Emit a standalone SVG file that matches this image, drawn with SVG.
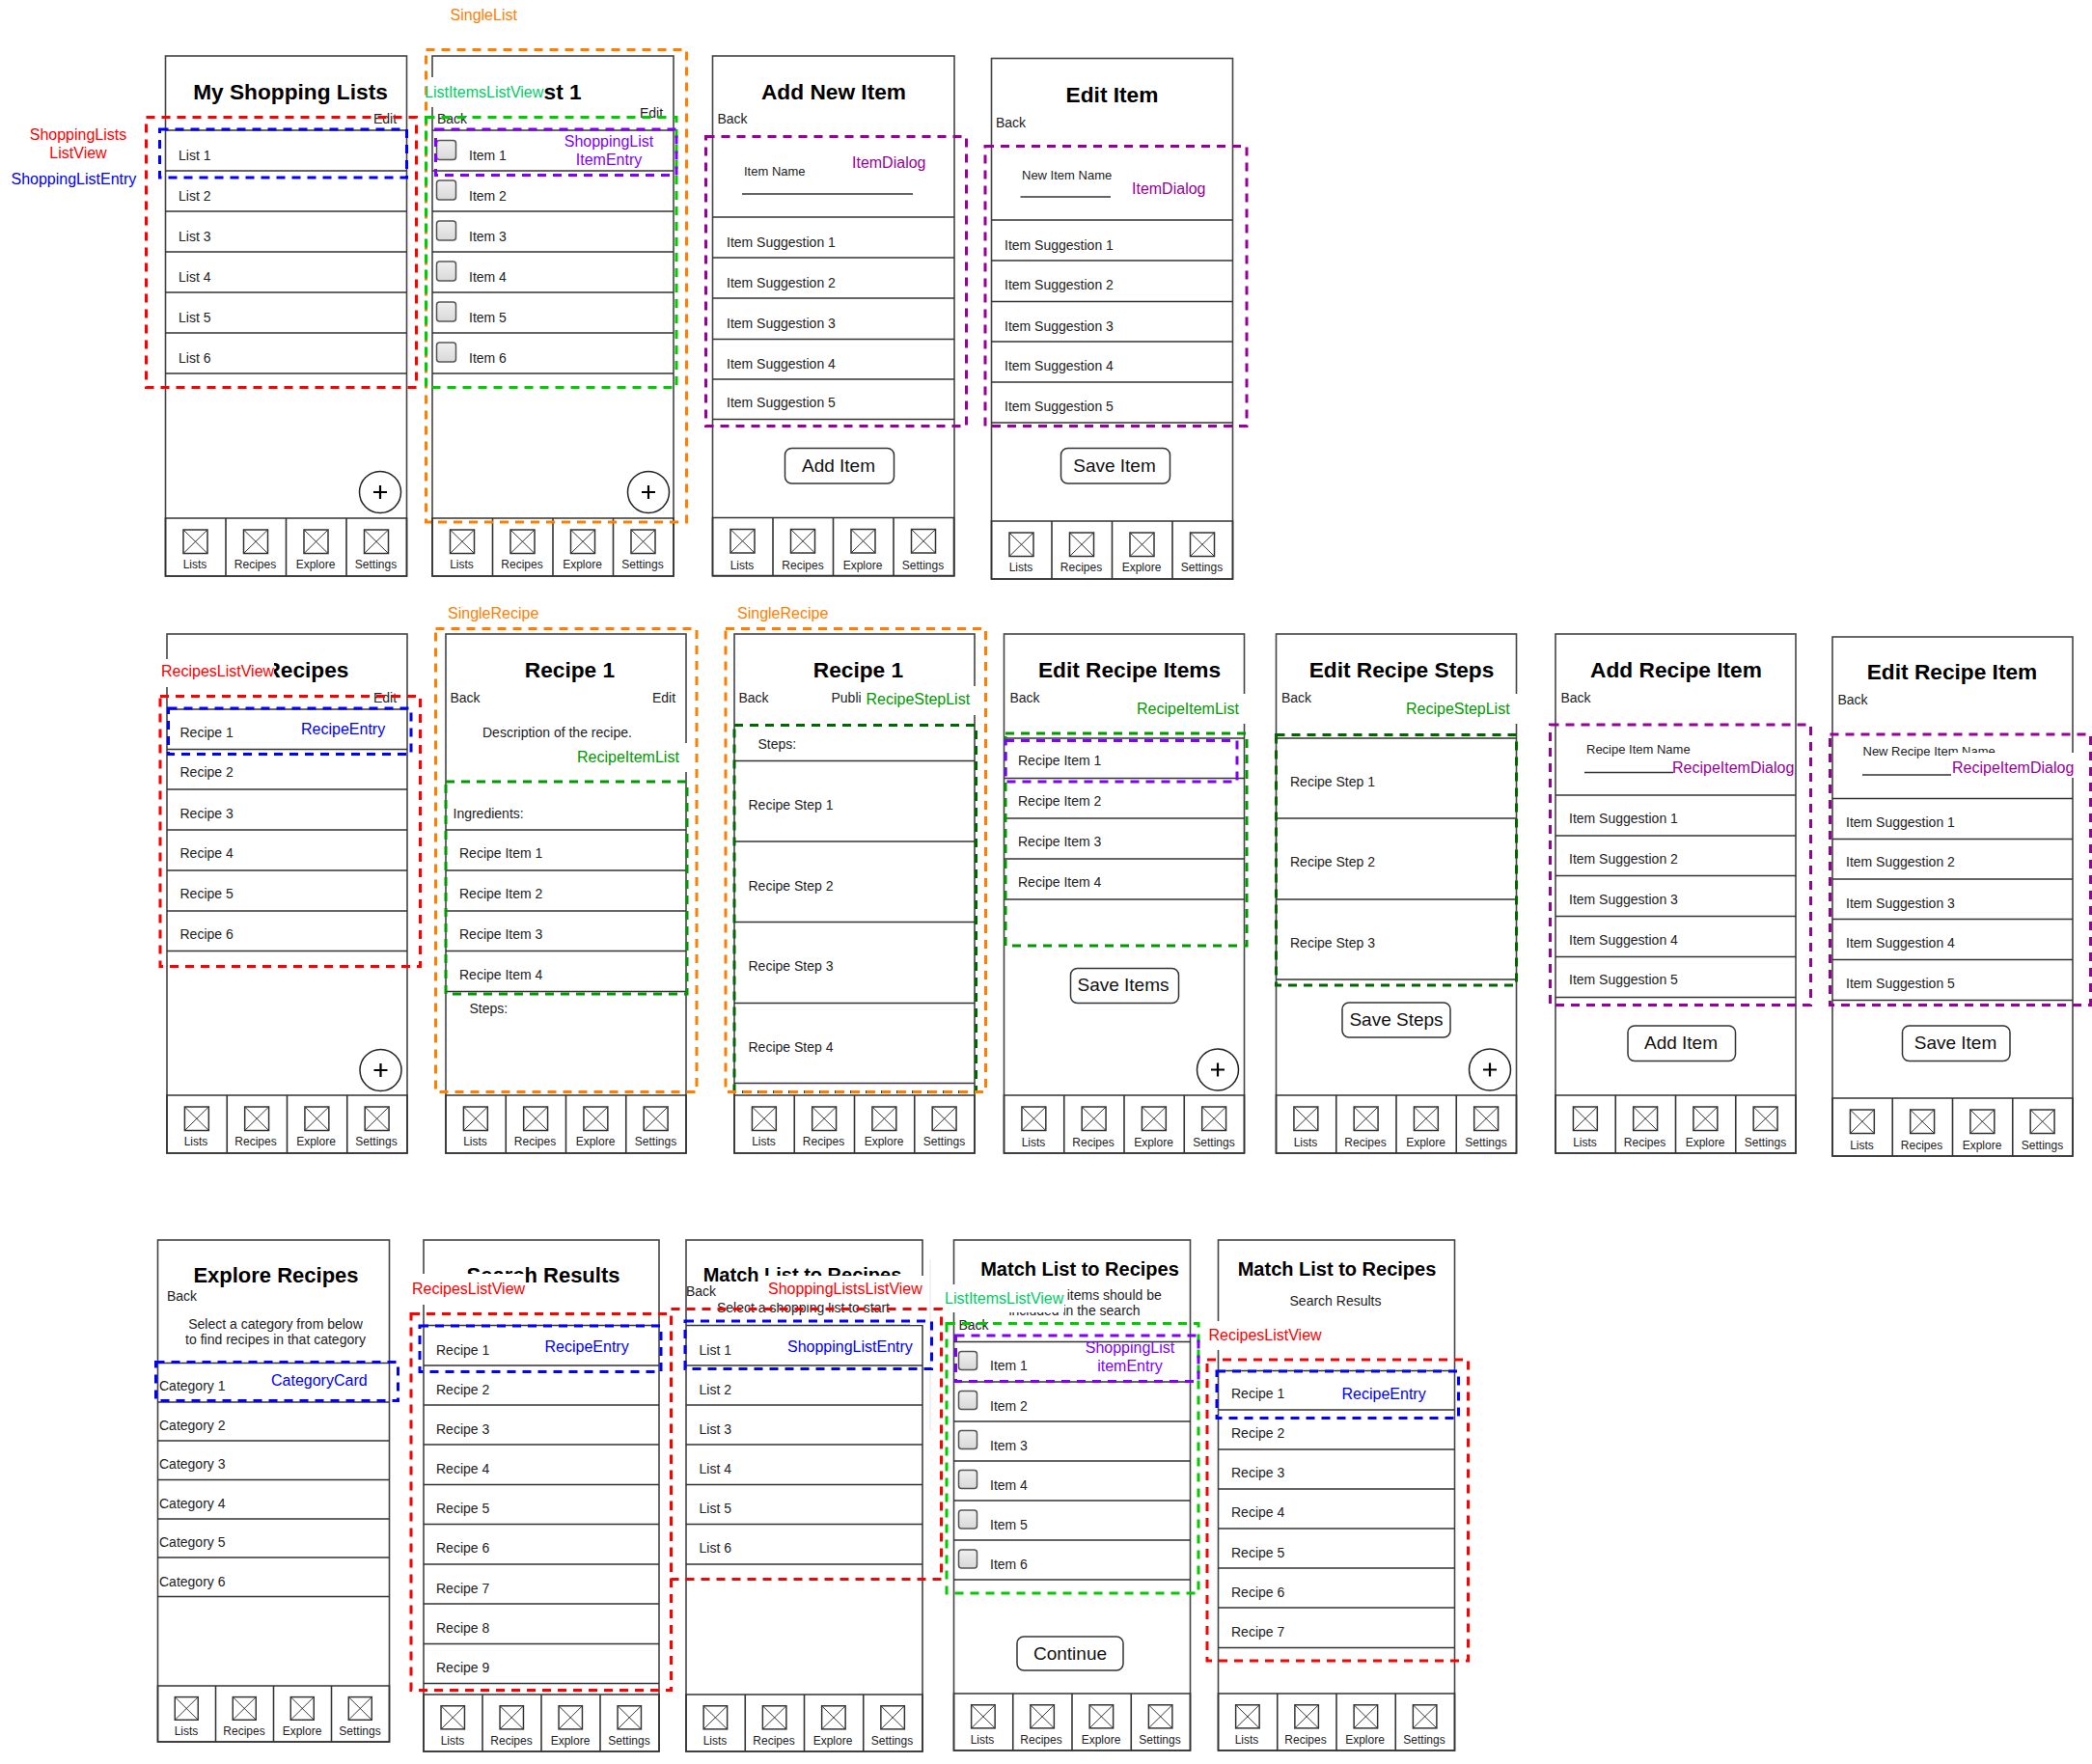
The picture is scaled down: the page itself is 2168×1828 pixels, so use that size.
<svg xmlns="http://www.w3.org/2000/svg" xmlns:xlink="http://www.w3.org/1999/xlink" width="2168" height="1828" viewBox="0 0 2168 1828">
<style>
text{font-family:"Liberation Sans",Arial,sans-serif;fill:#222}
.f{fill:#fff;stroke:#444;stroke-width:1.6}
.r{fill:none;stroke:#333;stroke-width:1.6}
.t{font-size:22.7px;font-weight:700;text-anchor:middle;fill:#000}
.t2{font-size:20px}
.t3{font-size:22px}
.s{font-size:14px}
.m{font-size:14px;text-anchor:middle}
.n{font-size:13px}
.k{font-size:12px;text-anchor:middle}
.b{font-size:19px;text-anchor:middle;fill:#111}
.btn{fill:#fff;stroke:#333;stroke-width:1.5}
.cb{fill:url(#cg);stroke:#555;stroke-width:1.5}
.circ{fill:#fff;stroke:#222;stroke-width:1.5}
.plus{fill:none;stroke:#000;stroke-width:2.2}
.w{fill:#fff;stroke:none}
.d{fill:none;stroke-width:3;stroke-dasharray:9 7}
.l{font-size:16px}
.lm{font-size:16px;text-anchor:middle}
</style>
<defs>
<linearGradient id="cg" x1="0" y1="0" x2="0" y2="1"><stop offset="0" stop-color="#f0f0f0"/><stop offset="1" stop-color="#d8d8d8"/></linearGradient>
<g id="ic"><rect x="-12.5" y="0" width="25" height="24.5" fill="none" stroke="#333" stroke-width="1.5"/><path d="M-12.5 0L12.5 24.5M12.5 0L-12.5 24.5" fill="none" stroke="#333" stroke-width="1"/></g>
<g id="tb"><path class="r" d="M0 0H250V60H0ZM62.5 0V60M125 0V60M187.5 0V60"/><use xlink:href="#ic" href="#ic" x="31" y="12"/><use xlink:href="#ic" href="#ic" x="93.5" y="12"/><use xlink:href="#ic" href="#ic" x="156" y="12"/><use xlink:href="#ic" href="#ic" x="218.5" y="12"/></g>
<g id="fab"><circle class="circ" r="21.5"/><path class="plus" d="M-7 0H7M0 -7V7"/></g>
</defs>

<g id="screen-my-shopping-lists">
<rect class="f" x="171.5" y="58" width="250" height="539"/>
<path class="r" d="M171.5 135H421.5M171.5 177H421.5M171.5 219H421.5M171.5 261H421.5M171.5 303H421.5M171.5 345H421.5M171.5 387H421.5"/>
<use xlink:href="#tb" href="#tb" transform="translate(171.5,537)"/>
<use xlink:href="#fab" href="#fab" x="394" y="510"/>
<text class="t" x="301" y="103">My Shopping Lists</text>
<text class="s" x="387" y="128">Edit</text>
<text class="s" x="185" y="166">List 1</text><text class="s" x="185" y="208">List 2</text><text class="s" x="185" y="250">List 3</text><text class="s" x="185" y="292">List 4</text><text class="s" x="185" y="334">List 5</text><text class="s" x="185" y="376">List 6</text>
<text class="k" x="202" y="589">Lists</text><text class="k" x="264.5" y="589">Recipes</text><text class="k" x="327" y="589">Explore</text><text class="k" x="389.5" y="589">Settings</text>
</g>

<g id="screen-list-1">
<rect class="f" x="448" y="58" width="250" height="539"/>
<path class="r" d="M448 135H698M448 177H698M448 219H698M448 261H698M448 303H698M448 345H698M448 387H698"/>
<use xlink:href="#tb" href="#tb" transform="translate(448,537)"/>
<use xlink:href="#fab" href="#fab" x="672" y="510"/>
<text class="t" x="573" y="103">List 1</text>
<text class="s" x="453" y="128">Back</text><text class="s" x="663" y="122">Edit</text>
<rect class="cb" x="452.5" y="145.5" width="20" height="20" rx="3"/><rect class="cb" x="452.5" y="187" width="20" height="20" rx="3"/><rect class="cb" x="452.5" y="229" width="20" height="20" rx="3"/><rect class="cb" x="452.5" y="271" width="20" height="20" rx="3"/><rect class="cb" x="452.5" y="313" width="20" height="20" rx="3"/><rect class="cb" x="452.5" y="355" width="20" height="20" rx="3"/>
<text class="s" x="486" y="166">Item 1</text><text class="s" x="486" y="208">Item 2</text><text class="s" x="486" y="250">Item 3</text><text class="s" x="486" y="292">Item 4</text><text class="s" x="486" y="334">Item 5</text><text class="s" x="486" y="376">Item 6</text>
<text class="k" x="478.5" y="589">Lists</text><text class="k" x="541" y="589">Recipes</text><text class="k" x="603.5" y="589">Explore</text><text class="k" x="666" y="589">Settings</text>
</g>

<g id="screen-add-new-item">
<rect class="f" x="738.5" y="58" width="250.5" height="539"/>
<path class="r" d="M738.5 225H989M738.5 267H989M738.5 309H989M738.5 351.5H989M738.5 393H989M738.5 434.5H989M769 201H946"/>
<use xlink:href="#tb" href="#tb" transform="translate(738.5,536.5)"/>
<text class="t" x="864" y="103">Add New Item</text>
<text class="s" x="743.5" y="128">Back</text>
<text class="n" x="771" y="182">Item Name</text>
<text class="s" x="753" y="256">Item Suggestion 1</text><text class="s" x="753" y="298">Item Suggestion 2</text><text class="s" x="753" y="340">Item Suggestion 3</text><text class="s" x="753" y="382">Item Suggestion 4</text><text class="s" x="753" y="422">Item Suggestion 5</text>
<rect class="btn" x="813.5" y="464.5" width="113" height="36.5" rx="7"/><text class="b" x="869" y="489">Add Item</text>
<text class="k" x="769" y="589.5">Lists</text><text class="k" x="832" y="589.5">Recipes</text><text class="k" x="894" y="589.5">Explore</text><text class="k" x="956.5" y="589.5">Settings</text>
</g>

<g id="screen-edit-item">
<rect class="f" x="1027.5" y="60.5" width="250" height="539.5"/>
<path class="r" d="M1027.5 228H1277.5M1027.5 270H1277.5M1027.5 312.5H1277.5M1027.5 354H1277.5M1027.5 396H1277.5M1027.5 438H1277.5M1057.5 204H1151"/>
<use xlink:href="#tb" href="#tb" transform="translate(1027.5,540)"/>
<text class="t" x="1152.5" y="106">Edit Item</text>
<text class="s" x="1032" y="132">Back</text>
<text class="n" x="1059" y="186">New Item Name</text>
<text class="s" x="1041" y="258.5">Item Suggestion 1</text><text class="s" x="1041" y="300">Item Suggestion 2</text><text class="s" x="1041" y="342.5">Item Suggestion 3</text><text class="s" x="1041" y="384">Item Suggestion 4</text><text class="s" x="1041" y="426">Item Suggestion 5</text>
<rect class="btn" x="1099.5" y="464.5" width="113" height="36.5" rx="7"/><text class="b" x="1155" y="489">Save Item</text>
<text class="k" x="1058" y="592">Lists</text><text class="k" x="1120.5" y="592">Recipes</text><text class="k" x="1183" y="592">Explore</text><text class="k" x="1245.5" y="592">Settings</text>
</g>

<g id="screen-my-recipes">
<rect class="f" x="173" y="657" width="249" height="538"/>
<path class="r" d="M173 735H422M173 776.5H422M173 818H422M173 860H422M173 902H422M173 944H422M173 985.5H422"/>
<use xlink:href="#tb" href="#tb" transform="translate(173,1135) scale(.996,1)"/>
<use xlink:href="#fab" href="#fab" x="394.5" y="1109"/>
<text class="t" x="299" y="701.5">My Recipes</text>
<text class="s" x="387" y="728">Edit</text>
<text class="s" x="186.5" y="764">Recipe 1</text><text class="s" x="186.5" y="805">Recipe 2</text><text class="s" x="186.5" y="847.5">Recipe 3</text><text class="s" x="186.5" y="889">Recipe 4</text><text class="s" x="186.5" y="931">Recipe 5</text><text class="s" x="186.5" y="973">Recipe 6</text>
<text class="k" x="203" y="1187">Lists</text><text class="k" x="265" y="1187">Recipes</text><text class="k" x="327.5" y="1187">Explore</text><text class="k" x="390" y="1187">Settings</text>
</g>

<g id="screen-recipe-1">
<rect class="f" x="462" y="657" width="249" height="538"/>
<path class="r" d="M462 860H711M462 902H711M462 944H711M462 985.5H711M462 1027.5H711"/>
<use xlink:href="#tb" href="#tb" transform="translate(462,1135) scale(.996,1)"/>
<text class="t" x="590.5" y="701.5">Recipe 1</text>
<text class="s" x="466.5" y="728">Back</text><text class="s" x="676" y="728">Edit</text>
<text class="s" x="500" y="764">Description of the recipe.</text>
<text class="s" x="469.5" y="847.5">Ingredients:</text>
<text class="s" x="476" y="889">Recipe Item 1</text><text class="s" x="476" y="931">Recipe Item 2</text><text class="s" x="476" y="972.5">Recipe Item 3</text><text class="s" x="476" y="1014.5">Recipe Item 4</text>
<text class="s" x="486.5" y="1050">Steps:</text>
<text class="k" x="492.5" y="1187">Lists</text><text class="k" x="554.5" y="1187">Recipes</text><text class="k" x="617" y="1187">Explore</text><text class="k" x="679.5" y="1187">Settings</text>
</g>

<g id="screen-recipe-1-steps">
<rect class="f" x="761" y="657" width="249" height="538"/>
<path class="r" d="M761 788.5H1010M761 872H1010M761 955.5H1010M761 1039.5H1010M761 1122.5H1010"/>
<use xlink:href="#tb" href="#tb" transform="translate(761,1135) scale(.996,1)"/>
<text class="t" x="889.5" y="701.5">Recipe 1</text>
<text class="s" x="765.5" y="728">Back</text><text class="s" x="861.5" y="728">Publish</text>
<text class="s" x="785.5" y="775.5">Steps:</text>
<text class="s" x="775.5" y="839">Recipe Step 1</text><text class="s" x="775.5" y="922.5">Recipe Step 2</text><text class="s" x="775.5" y="1006">Recipe Step 3</text><text class="s" x="775.5" y="1090">Recipe Step 4</text>
<text class="k" x="791.5" y="1187">Lists</text><text class="k" x="853.5" y="1187">Recipes</text><text class="k" x="916" y="1187">Explore</text><text class="k" x="978.5" y="1187">Settings</text>
</g>

<g id="screen-edit-recipe-items">
<rect class="f" x="1040.5" y="657" width="249" height="538"/>
<path class="r" d="M1040.5 765H1289.5M1040.5 806.5H1289.5M1040.5 848H1289.5M1040.5 890H1289.5M1040.5 932H1289.5"/>
<use xlink:href="#tb" href="#tb" transform="translate(1040.5,1135) scale(.996,1)"/>
<use xlink:href="#fab" href="#fab" x="1262" y="1108.5"/>
<text class="t" x="1170.5" y="701.5">Edit Recipe Items</text>
<text class="s" x="1046.5" y="728">Back</text>
<text class="s" x="1055" y="793">Recipe Item 1</text><text class="s" x="1055" y="835">Recipe Item 2</text><text class="s" x="1055" y="877">Recipe Item 3</text><text class="s" x="1055" y="918.5">Recipe Item 4</text>
<rect class="btn" x="1109.5" y="1003.5" width="112" height="36" rx="7"/><text class="b" x="1164" y="1027">Save Items</text>
<text class="k" x="1071" y="1187.5">Lists</text><text class="k" x="1133" y="1187.5">Recipes</text><text class="k" x="1195.5" y="1187.5">Explore</text><text class="k" x="1258" y="1187.5">Settings</text>
</g>

<g id="screen-edit-recipe-steps">
<rect class="f" x="1322.5" y="657" width="249" height="538"/>
<path class="r" d="M1322.5 765H1571.5M1322.5 848H1571.5M1322.5 932H1571.5M1322.5 1015H1571.5"/>
<use xlink:href="#tb" href="#tb" transform="translate(1322.5,1135) scale(.996,1)"/>
<use xlink:href="#fab" href="#fab" x="1544" y="1108.5"/>
<text class="t" x="1452.5" y="701.5">Edit Recipe Steps</text>
<text class="s" x="1328" y="728">Back</text>
<text class="s" x="1337" y="814.5">Recipe Step 1</text><text class="s" x="1337" y="898">Recipe Step 2</text><text class="s" x="1337" y="982">Recipe Step 3</text>
<rect class="btn" x="1391" y="1039" width="112" height="36" rx="7"/><text class="b" x="1447" y="1063">Save Steps</text>
<text class="k" x="1353" y="1187.5">Lists</text><text class="k" x="1415" y="1187.5">Recipes</text><text class="k" x="1477.5" y="1187.5">Explore</text><text class="k" x="1540" y="1187.5">Settings</text>
</g>

<g id="screen-add-recipe-item">
<rect class="f" x="1612" y="657" width="249" height="538"/>
<path class="r" d="M1612 824H1861M1612 866H1861M1612 907.5H1861M1612 949.5H1861M1612 991.5H1861M1612 1033.5H1861M1642 800.5H1734"/>
<use xlink:href="#tb" href="#tb" transform="translate(1612,1135) scale(.996,1)"/>
<text class="t" x="1737" y="701.5">Add Recipe Item</text>
<text class="s" x="1617.5" y="728">Back</text>
<text class="n" x="1644" y="781">Recipe Item Name</text>
<text class="s" x="1626" y="853">Item Suggestion 1</text><text class="s" x="1626" y="895">Item Suggestion 2</text><text class="s" x="1626" y="936.5">Item Suggestion 3</text><text class="s" x="1626" y="978.5">Item Suggestion 4</text><text class="s" x="1626" y="1020">Item Suggestion 5</text>
<rect class="btn" x="1687" y="1063" width="111.5" height="36.5" rx="7"/><text class="b" x="1742" y="1087">Add Item</text>
<text class="k" x="1642.5" y="1187.5">Lists</text><text class="k" x="1704.5" y="1187.5">Recipes</text><text class="k" x="1767" y="1187.5">Explore</text><text class="k" x="1829.5" y="1187.5">Settings</text>
</g>

<g id="screen-edit-recipe-item">
<rect class="f" x="1899" y="660" width="249" height="538"/>
<path class="r" d="M1899 827.5H2148M1899 869.5H2148M1899 911H2148M1899 952.5H2148M1899 994.5H2148M1899 1036.5H2148M1930 803H2026.5"/>
<use xlink:href="#tb" href="#tb" transform="translate(1899,1138) scale(.996,1)"/>
<text class="t" x="2023" y="703.5">Edit Recipe Item</text>
<text class="s" x="1904.5" y="730">Back</text>
<text class="n" x="1930.5" y="783">New Recipe Item Name</text>
<text class="s" x="1913" y="857">Item Suggestion 1</text><text class="s" x="1913" y="898">Item Suggestion 2</text><text class="s" x="1913" y="940.5">Item Suggestion 3</text><text class="s" x="1913" y="982">Item Suggestion 4</text><text class="s" x="1913" y="1024">Item Suggestion 5</text>
<rect class="btn" x="1971.5" y="1063" width="111.5" height="36.5" rx="7"/><text class="b" x="2026.5" y="1087">Save Item</text>
<text class="k" x="1929.5" y="1191">Lists</text><text class="k" x="1991.5" y="1191">Recipes</text><text class="k" x="2054" y="1191">Explore</text><text class="k" x="2116.5" y="1191">Settings</text>
</g>

<g id="screen-explore-recipes">
<rect class="f" x="163.5" y="1285" width="240" height="520"/>
<path class="r" d="M163.5 1412.5H403.5M163.5 1453H403.5M163.5 1493H403.5M163.5 1533.5H403.5M163.5 1574H403.5M163.5 1614H403.5M163.5 1654.5H403.5"/>
<use xlink:href="#tb" href="#tb" transform="translate(163.5,1747) scale(.96,.967)"/>
<text class="t t3" x="286" y="1329">Explore Recipes</text>
<text class="s" x="173" y="1347.5">Back</text>
<text class="m" x="285.5" y="1377">Select a category from below</text><text class="m" x="285.5" y="1393">to find recipes in that category</text>
<text class="s" x="165" y="1441">Category 1</text><text class="s" x="165" y="1481.5">Category 2</text><text class="s" x="165" y="1522">Category 3</text><text class="s" x="165" y="1563">Category 4</text><text class="s" x="165" y="1602.5">Category 5</text><text class="s" x="165" y="1643.5">Category 6</text>
<text class="k" x="193" y="1798">Lists</text><text class="k" x="253" y="1798">Recipes</text><text class="k" x="313" y="1798">Explore</text><text class="k" x="373" y="1798">Settings</text>
</g>

<g id="screen-search-results">
<rect class="f" x="439" y="1285" width="244" height="530"/>
<path class="r" d="M439 1373.5H683M439 1415H683M439 1456H683M439 1497H683M439 1538.5H683M439 1579.5H683M439 1621H683M439 1662H683M439 1703.5H683M439 1744.5H683"/>
<use xlink:href="#tb" href="#tb" transform="translate(439,1756) scale(.976,.983)"/>
<text class="t t3" x="563" y="1329">Search Results</text>
<text class="s" x="452" y="1403.5">Recipe 1</text><text class="s" x="452" y="1444.5">Recipe 2</text><text class="s" x="452" y="1485.5">Recipe 3</text><text class="s" x="452" y="1527">Recipe 4</text><text class="s" x="452" y="1568">Recipe 5</text><text class="s" x="452" y="1609">Recipe 6</text><text class="s" x="452" y="1651">Recipe 7</text><text class="s" x="452" y="1691.5">Recipe 8</text><text class="s" x="452" y="1732.5">Recipe 9</text>
<text class="k" x="469" y="1808">Lists</text><text class="k" x="530" y="1808">Recipes</text><text class="k" x="591" y="1808">Explore</text><text class="k" x="652" y="1808">Settings</text>
</g>

<g id="screen-match-list-select">
<rect class="f" x="711" y="1285" width="245" height="530"/>
<path class="r" d="M711 1373.5H956M711 1415H956M711 1456H956M711 1497H956M711 1538.5H956M711 1579.5H956M711 1621H956"/>
<use xlink:href="#tb" href="#tb" transform="translate(711,1756) scale(.98,.983)"/>
<text class="t t2" x="831.5" y="1328">Match List to Recipes</text>
<text class="s" x="711" y="1342.5">Back</text>
<text class="s" x="743" y="1360">Select a shopping list to start</text>
<text class="s" x="724.5" y="1403.5">List 1</text><text class="s" x="724.5" y="1444.5">List 2</text><text class="s" x="724.5" y="1485.5">List 3</text><text class="s" x="724.5" y="1527">List 4</text><text class="s" x="724.5" y="1568">List 5</text><text class="s" x="724.5" y="1609">List 6</text>
<text class="k" x="741" y="1808">Lists</text><text class="k" x="802" y="1808">Recipes</text><text class="k" x="863" y="1808">Explore</text><text class="k" x="924.5" y="1808">Settings</text>
</g>

<g id="screen-match-list-items">
<rect class="f" x="988.5" y="1285" width="245" height="529"/>
<path class="r" d="M988.5 1390.5H1233.5M988.5 1432H1233.5M988.5 1473H1233.5M988.5 1514H1233.5M988.5 1555H1233.5M988.5 1596H1233.5M988.5 1637H1233.5"/>
<use xlink:href="#tb" href="#tb" transform="translate(988.5,1755) scale(.98,.983)"/>
<text class="t t2" x="1119" y="1322">Match List to Recipes</text>
<text class="m" x="1113.5" y="1347">Select which items should be</text><text class="m" x="1113.5" y="1363">included in the search</text>
<text class="s" x="993.5" y="1378">Back</text>
<rect class="cb" x="993.5" y="1400.5" width="19" height="19" rx="3"/><rect class="cb" x="993.5" y="1441.5" width="19" height="19" rx="3"/><rect class="cb" x="993.5" y="1482.5" width="19" height="19" rx="3"/><rect class="cb" x="993.5" y="1523.5" width="19" height="19" rx="3"/><rect class="cb" x="993.5" y="1565" width="19" height="19" rx="3"/><rect class="cb" x="993.5" y="1606" width="19" height="19" rx="3"/>
<text class="s" x="1026" y="1420">Item 1</text><text class="s" x="1026" y="1461.5">Item 2</text><text class="s" x="1026" y="1502.5">Item 3</text><text class="s" x="1026" y="1543.5">Item 4</text><text class="s" x="1026" y="1584.5">Item 5</text><text class="s" x="1026" y="1626">Item 6</text>
<rect class="btn" x="1054" y="1696" width="110" height="35" rx="7"/><text class="b" x="1109" y="1720">Continue</text>
<text class="k" x="1018" y="1806.5">Lists</text><text class="k" x="1079" y="1806.5">Recipes</text><text class="k" x="1141" y="1806.5">Explore</text><text class="k" x="1202" y="1806.5">Settings</text>
</g>

<g id="screen-match-list-results">
<rect class="f" x="1262.5" y="1285" width="245" height="529"/>
<path class="r" d="M1262.5 1420.5H1507.5M1262.5 1461H1507.5M1262.5 1502H1507.5M1262.5 1543H1507.5M1262.5 1584H1507.5M1262.5 1625H1507.5M1262.5 1666H1507.5M1262.5 1707.5H1507.5"/>
<use xlink:href="#tb" href="#tb" transform="translate(1262.5,1755) scale(.98,.983)"/>
<text class="t t2" x="1385.5" y="1322">Match List to Recipes</text>
<text class="m" x="1384" y="1353">Search Results</text>
<text class="s" x="1276" y="1448.5">Recipe 1</text><text class="s" x="1276" y="1489.5">Recipe 2</text><text class="s" x="1276" y="1531">Recipe 3</text><text class="s" x="1276" y="1572">Recipe 4</text><text class="s" x="1276" y="1613.5">Recipe 5</text><text class="s" x="1276" y="1654.5">Recipe 6</text><text class="s" x="1276" y="1695.5">Recipe 7</text>
<text class="k" x="1292" y="1806.5">Lists</text><text class="k" x="1353" y="1806.5">Recipes</text><text class="k" x="1414.5" y="1806.5">Explore</text><text class="k" x="1476" y="1806.5">Settings</text>
</g>

<g id="label-masks">
<rect class="w" x="440" y="80" width="123" height="31"/>
<rect class="w" x="165" y="683" width="119" height="29"/>
<rect class="w" x="596" y="770" width="118" height="30"/>
<rect class="w" x="892" y="711" width="122" height="30"/>
<rect class="w" x="1177" y="719" width="115" height="31"/>
<rect class="w" x="1456" y="719" width="118" height="31"/>
<rect class="w" x="2022" y="780" width="128" height="26"/>
<rect class="w" x="426" y="1320" width="117" height="32"/>
<rect class="w" x="793" y="1322" width="164" height="28"/>
<rect class="w" x="943" y="1350" width="14" height="23"/>
<rect class="w" x="979" y="1331" width="124" height="29"/>
<rect class="w" x="1252" y="1369" width="118" height="30"/>
<path d="M964 1305V1483" fill="none" stroke="#eee" stroke-width="1.5"/>
</g>

<g id="connectors">
<rect class="d" stroke="#f00" x="151.5" y="121.5" width="280" height="280"/>
<rect class="d" stroke="#00f" x="165.5" y="134" width="256" height="50"/>
<rect class="d" stroke="#ff8000" x="441.5" y="51.5" width="270" height="489.5"/>
<rect class="d" stroke="#00cc00" x="441.5" y="121.5" width="259.5" height="280"/>
<rect class="d" stroke="#7f00ff" x="451.5" y="134" width="249.5" height="47.5"/>
<rect class="d" stroke="#990099" x="731.5" y="141.5" width="270" height="300"/>
<rect class="d" stroke="#990099" x="1021" y="151.5" width="271" height="290"/>
<rect class="d" stroke="#f00" x="166" y="721.5" width="269.5" height="280"/>
<rect class="d" stroke="#00f" x="174.5" y="734" width="251.5" height="47.5"/>
<rect class="d" stroke="#ff8000" x="451.5" y="651.5" width="270.5" height="480"/>
<rect class="d" stroke="#009900" x="462" y="810" width="250" height="220"/>
<rect class="d" stroke="#006600" x="761" y="751.5" width="250.5" height="380"/>
<rect class="d" stroke="#ff8000" x="752" y="651.5" width="269.5" height="480"/>
<rect class="d" stroke="#009900" x="1042" y="760" width="250" height="220"/>
<rect class="d" stroke="#7f00ff" x="1042" y="767.5" width="240" height="42.5"/>
<rect class="d" stroke="#006600" x="1322.5" y="761.5" width="249" height="259.5"/>
<rect class="d" stroke="#990099" x="1606.5" y="751" width="270" height="290.5"/>
<rect class="d" stroke="#990099" x="1896.5" y="761" width="270" height="280.5"/>
<rect class="d" stroke="#00f" x="161.5" y="1411.5" width="251" height="40"/>
<rect class="d" stroke="#f00" x="426" y="1361.5" width="269.5" height="390"/>
<rect class="d" stroke="#00f" x="435" y="1374" width="250" height="47.5"/>
<rect class="d" stroke="#f00" x="695.5" y="1356.5" width="280" height="280"/>
<rect class="d" stroke="#00f" x="710" y="1369" width="255.5" height="49.5"/>
<rect class="d" stroke="#00cc00" x="981" y="1371.5" width="261" height="279.5"/>
<rect class="d" stroke="#7f00ff" x="990.5" y="1384" width="251.5" height="47.5"/>
<rect class="d" stroke="#f00" x="1251" y="1409" width="270.5" height="312"/>
<rect class="d" stroke="#00f" x="1261" y="1421" width="250.5" height="48.5"/>
</g>

<g id="labels">
<text class="lm" x="81" y="145" style="fill:#f00">ShoppingLists</text><text class="lm" x="81" y="164" style="fill:#f00">ListView</text>
<text class="l" x="11.5" y="191" style="fill:#00f">ShoppingListEntry</text>
<text class="l" x="466.5" y="20.5" style="fill:#ff8000">SingleList</text>
<text class="l" x="440" y="101" style="fill:#00cc66">ListItemsListView</text>
<text class="lm" x="631" y="152" style="fill:#7f00ff">ShoppingList</text><text class="lm" x="631" y="171" style="fill:#7f00ff">ItemEntry</text>
<text class="l" x="883" y="174" style="fill:#990099">ItemDialog</text>
<text class="l" x="1173" y="201" style="fill:#990099">ItemDialog</text>
<text class="l" x="167" y="700.5" style="fill:#f00">RecipesListView</text>
<text class="l" x="312" y="760.5" style="fill:#00f">RecipeEntry</text>
<text class="l" x="464" y="641" style="fill:#ff8000">SingleRecipe</text>
<text class="l" x="764" y="641" style="fill:#ff8000">SingleRecipe</text>
<text class="l" x="598" y="789.5" style="fill:#009900">RecipeItemList</text>
<text class="l" x="897.5" y="730" style="fill:#009900">RecipeStepList</text>
<text class="l" x="1178" y="739.5" style="fill:#009900">RecipeItemList</text>
<text class="l" x="1457" y="739.5" style="fill:#009900">RecipeStepList</text>
<text class="l" x="1733" y="801" style="fill:#990099">RecipeItemDialog</text>
<text class="l" x="2023" y="801" style="fill:#990099">RecipeItemDialog</text>
<text class="l" x="281" y="1435.5" style="fill:#00f">CategoryCard</text>
<text class="l" x="427" y="1341" style="fill:#f00">RecipesListView</text>
<text class="l" x="564.5" y="1400.5" style="fill:#00f">RecipeEntry</text>
<text class="l" x="796" y="1340.5" style="fill:#f00">ShoppingListsListView</text>
<text class="l" x="816" y="1401" style="fill:#00f">ShoppingListEntry</text>
<text class="l" x="979" y="1351" style="fill:#00cc66">ListItemsListView</text>
<text class="lm" x="1171" y="1402" style="fill:#7f00ff">ShoppingList</text><text class="lm" x="1171" y="1421" style="fill:#7f00ff">itemEntry</text>
<text class="l" x="1252.5" y="1389" style="fill:#f00">RecipesListView</text>
<text class="l" x="1390.5" y="1449.5" style="fill:#00f">RecipeEntry</text>
</g>
</svg>
